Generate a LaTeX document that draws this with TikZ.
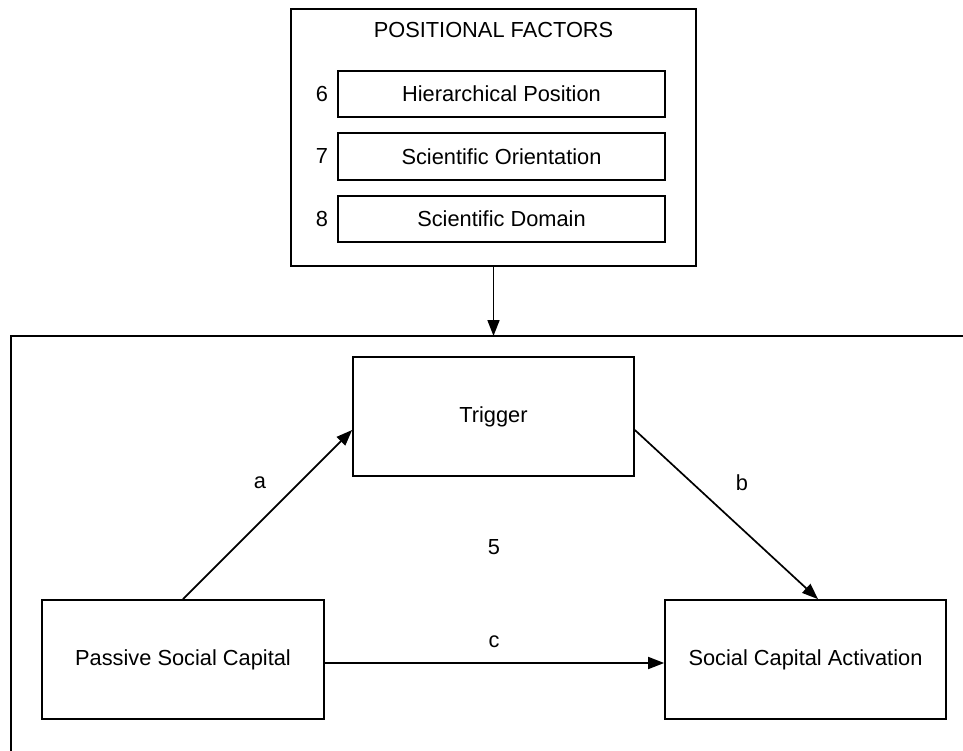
\documentclass[tikz,border=0pt]{standalone}
\usepackage{fontspec}
\setmainfont{Liberation Sans}
\usetikzlibrary{arrows.meta,calc}
\begin{document}
\begin{tikzpicture}[x=1pt,y=-1pt,
  every node/.style={font=\fontsize{21.8}{26}\selectfont, inner sep=0pt},
  box/.style={draw, line width=1.7pt, rectangle},
  conn/.style={line width=1.7pt, -{Triangle[length=16pt,width=12pt]}}]
\useasboundingbox (0,0) rectangle (963,751);

% outer frame around the causal model (runs off the page edges)
\begin{scope}
  \clip (0,0) rectangle (963,751);
  \draw[line width=1.7pt] (11,336) rectangle (1100,900);
  \coordinate (frametop) at (493.5,336);
\end{scope}

% positional factors panel
\node[box, minimum width=405pt, minimum height=257pt] (pf) at (493.5,137.5) {};
\node (pftitle) at (493.5,30) {POSITIONAL FACTORS};
\node[box, minimum width=327pt, minimum height=46pt] (hp) at (501.5,94) {Hierarchical Position};
\node[box, minimum width=327pt, minimum height=47pt] (so) at (501.5,156.5) {Scientific Orientation};
\node[box, minimum width=327pt, minimum height=46pt] (sd) at (501.5,219) {Scientific Domain};
\node (n6) at (322,94) {6};
\node (n7) at (322,156.5) {7};
\node (n8) at (322,219) {8};

% model nodes
\node[box, minimum width=281pt, minimum height=119pt] (trig) at (493.5,416.5) {Trigger};
\node[box, minimum width=282pt, minimum height=119pt] (psc) at (183,659.5) {Passive Social Capital};
\node[box, minimum width=281pt, minimum height=119pt] (sca) at (805.5,659.5) {Social Capital Activation};

% connectors
\draw[conn] (pf.south) -- (frametop);
\draw[conn] (psc.north) -- ($(trig.west)+(0,13.5)$);
\draw[conn] ($(trig.east)+(0,13.5)$) -- ($(sca.north)+(12.5,0)$);
\draw[conn] ($(psc.east)+(0,3.5)$) -- ($(sca.west)+(0,3.5)$);

% path labels
\node (la) at (260,483) {a};
\node (lb) at (742,483) {b};
\node (lc) at (494,642) {c};
\node (l5) at (494,547) {5};
\end{tikzpicture}
\end{document}
